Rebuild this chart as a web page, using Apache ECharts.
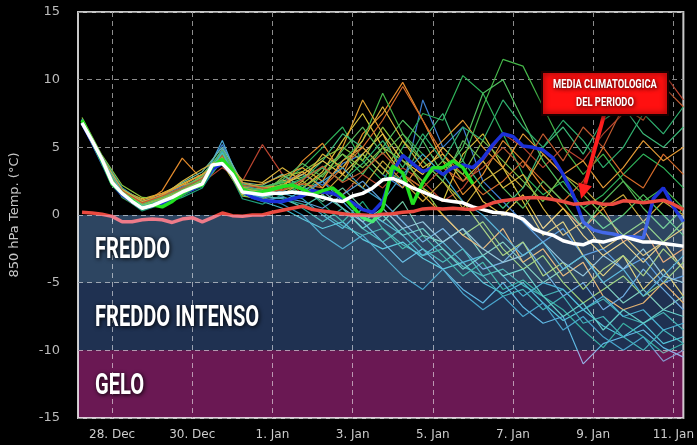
<!DOCTYPE html>
<html>
<head>
<meta charset="utf-8">
<title>850 hPa Temp. ensemble</title>
<script src="https://cdn.jsdelivr.net/npm/echarts@6.0.0/dist/echarts.min.js"></script>
<style>
  html, body { margin: 0; padding: 0; background: #000; }
  #chart { width: 697px; height: 445px; }
</style>
</head>
<body>
<div id="chart"></div>
<script>
// tempo in giorni dal 28 dic 00z (passo 6h e 12h)
const days6 = [-0.75, -0.5, -0.25, 0, 0.25, 0.5, 0.75, 1, 1.25, 1.5, 1.75, 2, 2.25, 2.5, 2.75, 3, 3.25, 3.5, 3.75, 4,
  4.25, 4.5, 4.75, 5, 5.25, 5.5, 5.75, 6, 6.25, 6.5, 6.75, 7, 7.25, 7.5, 7.75, 8, 8.25, 8.5, 8.75, 9,
  9.25, 9.5, 9.75, 10, 10.25, 10.5, 10.75, 11, 11.25, 11.5, 11.75, 12, 12.25, 12.5, 12.75, 13, 13.25, 13.5, 13.75, 14, 14.25];
const days12 = [-0.75, -0.25, 0.25, 0.75, 1.25, 1.75, 2.25, 2.75, 3.25, 3.75, 4.25, 4.75, 5.25, 5.75, 6.25, 6.75,
  7.25, 7.75, 8.25, 8.75, 9.25, 9.75, 10.25, 10.75, 11.25, 11.75, 12.25, 12.75, 13.25, 13.75, 14.25];

const tickDays = [0, 2, 4, 6, 8, 10, 12, 14];
const tickLabels = ['28. Dec', '30. Dec', '1. Jan', '3. Jan', '5. Jan', '7. Jan', '9. Jan', '11. Jan'];

// media climatologica (rossa)
const climaRed = [0.2, 0.15, 0.05, -0.1, -0.5, -0.5, -0.35, -0.3, -0.35, -0.55,
  -0.3, -0.2, -0.5, -0.2, 0.15, -0.05, -0.1, 0.0, 0.0, 0.2,
  0.35, 0.5, 0.65, 0.4, 0.3, 0.2, 0.1, 0.0, 0.0, -0.05,
  0.05, 0.1, 0.2, 0.25, 0.45, 0.5, 0.45, 0.5, 0.45, 0.4,
  0.6, 0.9, 1.05, 1.15, 1.25, 1.3, 1.25, 1.15, 1.0, 0.8,
  0.85, 0.95, 0.8, 0.8, 1.05, 1.0, 0.9, 1.0, 1.1, 0.8, 0.4];
// media ensemble (bianca)
const meanWhite = [6.8, 5.5, 4.1, 2.4, 1.6, 1.0, 0.5, 0.7, 1.0, 1.3,
  1.7, 2.0, 2.3, 3.7, 3.8, 3.0, 1.7, 1.6, 1.5, 1.6,
  1.6, 1.7, 1.6, 1.5, 1.3, 1.1, 1.0, 1.4, 1.6, 2.0,
  2.6, 2.7, 2.4, 2.0, 1.7, 1.4, 1.1, 1.0, 0.9, 0.6,
  0.4, 0.2, 0.15, 0.0, -0.3, -1.0, -1.3, -1.5, -1.9, -2.1,
  -2.2, -1.9, -2.0, -1.8, -1.6, -1.8, -2.0, -2.0, -2.1, -2.2, -2.3];
// operativo (blu)
const opBlue = [6.8, 5.4, 3.9, 2.3, 1.5, 1.0, 0.5, 0.7, 0.9, 1.2,
  1.6, 1.9, 2.2, 3.4, 3.8, 3.0, 1.8, 1.3, 1.1, 1.0,
  1.0, 1.2, 1.4, 1.8, 1.7, 1.6, 1.3, 0.9, 0.4, 0.2,
  1.0, 3.2, 4.4, 3.8, 3.2, 3.5, 3.0, 3.5, 3.7, 3.5,
  4.2, 5.2, 6.0, 5.8, 5.1, 5.0, 4.8, 4.2, 3.0, 1.5,
  -0.5, -1.1, -1.3, -1.4, -1.6, -1.6, -1.7, 1.2, 2.0, 0.6, -0.5];
// controllo (verde), fino al 6 gen
const ctrlGreen = [7.0, 5.5, 4.0, 2.3, 1.6, 1.1, 0.5, 0.75, 0.6, 1.0,
  1.6, 2.0, 2.2, 3.6, 4.1, 3.3, 1.9, 1.6, 1.7, 1.9,
  2.1, 2.2, 1.9, 1.5, 1.8, 2.0, 1.4, 0.6, -0.2, -0.5,
  0.5, 3.6, 3.1, 0.8, 2.4, 3.5, 3.5, 4.0, 3.5, 2.3];

// membri ensemble (passo 12h)
const members = [
  [7.0, 4.2, 1.9, 0.9, 1.2, 1.8, 2.6, 4.6, 2.0, 1.4, 1.2, 0.8, 0.2, -0.8, -1.5, -1.0, -2.2, -3.0, -2.5, -3.8, -4.5, -4.0, -5.2, -6.0, -5.5, -7.0, -6.2, -7.5, -8.0, -7.2, -8.5],
  [6.8, 3.9, 1.5, 0.5, 0.9, 1.5, 2.2, 4.0, 1.5, 1.0, 0.5, -0.3, -1.0, -0.5, -1.8, -2.5, -2.0, -3.2, -4.0, -3.5, -5.0, -5.8, -5.0, -6.5, -7.8, -7.0, -8.2, -9.0, -8.0, -9.5, -9.0],
  [7.1, 4.3, 2.0, 1.0, 1.5, 2.1, 2.8, 5.2, 2.3, 2.0, 2.5, 3.0, 2.2, 3.8, 4.5, 3.0, 2.0, 8.5, 5.0, 6.5, 2.5, 1.0, -0.5, -2.0, -1.0, -3.0, -2.5, -4.0, -3.2, -5.0, -4.5],
  [6.9, 4.0, 1.6, 0.6, 1.0, 1.5, 2.5, 4.4, 1.8, 1.9, 2.4, 3.5, 5.0, 6.5, 4.0, 2.5, 5.0, 7.5, 7.0, 10.3, 9.0, 6.0, 3.0, 1.5, 2.5, 0.5, 1.5, 3.0, 4.5, 3.5, 2.0],
  [6.7, 3.8, 1.8, 1.2, 1.6, 2.3, 3.0, 3.8, 1.5, 1.8, 2.6, 2.0, 3.2, 5.5, 7.5, 5.0, 3.0, 2.0, 1.0, 4.5, 6.0, 3.5, 1.0, -1.5, -0.5, -3.0, -4.5, -3.0, -5.5, -4.0, -6.0],
  [6.9, 4.1, 1.7, 0.8, 1.8, 4.2, 2.6, 4.8, 2.2, 1.7, 2.0, 4.0, 5.3, 3.0, 6.0, 7.5, 9.8, 7.0, 4.0, 1.5, 3.0, 5.5, 4.0, 2.0, 0.5, -1.0, 0.5, -2.0, -1.0, -3.5, -2.5],
  [6.8, 4.0, 1.9, 1.0, 1.4, 2.0, 2.4, 3.5, 2.5, 5.2, 3.0, 1.5, 2.5, 1.5, 3.0, 2.0, 3.5, 2.5, 1.0, 2.0, 4.0, 6.0, 5.0, 3.5, 5.0, 4.0, 6.0, 7.5, 9.0, 10.5, 8.5],
  [7.2, 4.4, 2.2, 1.3, 1.2, 1.8, 3.0, 4.5, 2.0, 1.5, 2.8, 3.2, 4.2, 5.0, 4.0, 6.5, 4.5, 2.0, 0.0, -1.5, -0.5, -2.5, -4.0, -3.0, -5.0, -6.5, -5.5, -4.5, -6.0, -5.0, -3.5],
  [6.9, 3.9, 1.4, 0.3, 0.8, 1.3, 2.0, 4.2, 1.2, 0.8, 1.5, 2.2, 0.8, -0.5, 1.0, -1.0, -2.5, -1.5, -3.0, -4.5, -3.5, -5.5, -4.8, -6.0, -7.0, -8.5, -9.8, -8.0, -9.0, -10.2, -9.5],
  [7.0, 4.1, 1.8, 0.6, 1.1, 1.7, 2.5, 5.5, 1.9, 1.2, 1.0, 1.8, 2.5, 1.0, -0.5, -2.0, -3.5, -2.5, -4.0, -5.5, -6.5, -5.0, -6.8, -8.0, -7.5, -11.0, -9.5, -9.0, -8.5, -9.8, -10.5],
  [6.8, 3.7, 1.3, 0.4, 1.0, 1.4, 2.2, 4.0, 1.6, 2.0, 2.5, 1.5, 3.0, 4.0, 5.5, 9.0, 6.0, 4.5, 3.0, 4.0, 8.0, 11.5, 11.0, 8.0, 5.0, 3.0, 4.5, 2.5, 1.0, 2.0, 0.5],
  [6.9, 4.0, 1.6, 0.9, 1.3, 2.0, 2.8, 4.6, 2.1, 1.9, 1.5, 2.5, 1.5, 3.0, 2.0, 4.0, 2.5, 1.0, 2.5, 0.5, 2.5, 3.5, 2.0, 4.5, 3.0, 2.0, 0.5, 1.5, -0.5, 1.0, 0.0],
  [7.0, 4.2, 1.7, 0.7, 1.2, 1.6, 2.3, 4.0, 1.7, 1.3, 0.8, 0.0, -1.5, -2.5, -1.5, -3.0, -4.5, -5.5, -4.0, -5.8, -7.0, -6.0, -7.5, -6.5, -8.5, -7.5, -9.0, -10.0, -9.0, -10.8, -10.0],
  [6.8, 3.9, 1.6, 0.8, 1.5, 2.4, 3.2, 5.0, 2.4, 2.2, 3.0, 2.0, 1.0, 2.0, 0.5, -0.5, 1.0, -1.5, -2.0, -1.0, -3.0, -2.0, -3.5, -5.0, -4.0, -3.0, -5.0, -6.5, -5.5, -7.0, -6.0],
  [7.0, 4.2, 1.9, 1.1, 1.6, 2.2, 2.6, 4.3, 2.0, 2.3, 2.9, 3.5, 2.5, 5.0, 8.5, 6.0, 3.0, 1.5, 0.0, -1.5, -2.5, -1.0, -3.5, -2.5, -4.5, -3.5, -6.0, -7.0, -6.5, -5.0, -6.5],
  [6.9, 4.0, 1.5, 0.5, 0.9, 1.6, 2.3, 4.4, 1.8, 1.6, 2.0, 2.6, 4.0, 6.0, 5.0, 3.5, 2.5, 5.5, 7.5, 4.0, 2.0, 0.5, 2.0, 5.0, 6.5, 4.5, 7.0, 8.0, 6.0, 5.0, 6.5],
  [7.0, 4.1, 1.8, 0.7, 1.1, 1.7, 2.4, 4.9, 1.7, 1.1, 1.3, 1.0, 0.5, 1.5, 2.5, 1.0, -0.5, -2.0, -1.0, -2.5, -4.0, -3.5, -2.0, -4.0, -6.0, -5.0, -7.0, -6.0, -4.0, -5.5, -7.0],
  [6.7, 3.8, 1.4, 0.5, 1.0, 1.7, 2.5, 4.1, 1.4, 1.2, 1.8, 2.3, 3.5, 2.5, 4.5, 3.0, 5.5, 4.0, 2.5, 1.0, -1.0, -3.0, -2.0, -4.5, -3.5, -5.5, -4.0, -3.0, -4.5, -2.5, -4.0],
  [7.1, 4.3, 2.0, 1.0, 1.4, 2.0, 2.7, 4.7, 2.2, 1.8, 1.4, 0.5, -0.5, 0.5, -1.0, -2.0, -1.0, -2.5, -3.5, -2.5, -4.5, -6.0, -5.5, -7.0, -6.0, -8.0, -7.5, -9.0, -10.0, -8.5, -9.5],
  [6.9, 4.0, 1.7, 0.8, 1.3, 1.9, 2.5, 4.5, 1.9, 1.6, 1.9, 2.3, 2.0, 3.5, 5.0, 7.0, 9.5, 7.0, 4.5, 3.0, 1.5, 2.5, 4.0, 2.5, 1.0, 2.5, 5.0, 3.0, 2.0, 4.5, 3.0],
  [6.8, 3.9, 1.5, 0.6, 1.0, 1.5, 2.2, 4.2, 1.6, 1.4, 1.6, 1.2, 0.0, -1.0, 0.5, -0.5, -1.5, -3.0, -2.0, -3.5, -3.0, -4.5, -6.0, -5.0, -5.5, -7.0, -6.0, -7.5, -7.0, -8.5, -8.0],
  [7.0, 4.1, 1.8, 0.9, 1.4, 2.0, 2.9, 4.8, 2.3, 2.1, 2.4, 2.8, 3.5, 4.5, 3.0, 5.0, 7.0, 5.5, 3.0, 5.0, 9.0, 10.0, 7.0, 4.0, 2.0, 0.5, -1.0, 0.0, 1.5, 0.0, -1.5],
  [6.9, 4.0, 1.6, 0.7, 1.1, 1.6, 2.3, 4.3, 1.7, 1.5, 1.7, 1.5, 1.8, 0.5, -0.5, 0.5, -1.0, -0.5, -2.0, -1.0, -2.5, -3.5, -3.0, -2.0, -3.5, -4.5, -3.0, -4.0, -2.5, -4.5, -5.0],
  [7.0, 4.0, 1.7, 0.8, 1.2, 1.8, 2.6, 4.4, 2.0, 1.7, 2.2, 3.0, 4.0, 3.0, 4.5, 6.0, 4.0, 3.0, 5.0, 3.5, 1.0, 0.0, 1.5, -1.0, 0.5, -1.5, -3.0, -2.0, -3.5, -2.0, -4.0],
  [6.9, 4.1, 1.8, 0.8, 1.3, 1.9, 2.6, 4.6, 2.0, 1.8, 2.6, 3.8, 2.8, 4.8, 6.5, 4.5, 6.0, 4.0, 2.5, 5.5, 4.0, 2.0, 0.5, 2.5, 1.0, -1.0, 1.0, 2.5, 0.5, -1.0, 0.5],
  [7.0, 4.2, 1.9, 1.0, 1.4, 2.5, 3.4, 4.2, 2.6, 2.4, 3.5, 2.5, 4.5, 3.5, 5.5, 8.0, 5.5, 3.5, 4.5, 2.5, 4.0, 2.0, 3.0, 0.5, -1.5, -0.5, -2.5, -1.5, -3.0, -2.0, -1.0],
  [6.8, 3.8, 1.5, 0.5, 1.0, 1.6, 2.2, 4.7, 1.6, 1.3, 1.8, 1.5, 2.5, 3.5, 2.0, 1.0, 3.0, 4.5, 3.0, 1.0, 0.0, -1.5, -3.0, -2.0, -4.0, -3.0, -5.0, -4.0, -6.0, -4.5, -3.0],
  [6.9, 4.0, 1.7, 0.9, 1.5, 2.2, 3.0, 4.0, 2.4, 2.0, 2.2, 3.2, 2.0, 4.0, 5.0, 3.5, 2.0, 4.0, 5.5, 7.0, 5.0, 3.5, 6.0, 4.5, 3.0, 4.0, 2.0, 3.5, 5.5, 4.0, 5.0],
  [7.0, 4.1, 1.6, 0.6, 1.1, 1.7, 2.4, 4.5, 1.8, 1.5, 2.1, 2.7, 3.5, 2.5, 3.8, 5.5, 3.5, 6.0, 4.0, 6.5, 5.5, 8.5, 6.5, 5.0, 7.0, 5.5, 3.5, 5.0, 7.5, 6.0, 8.0],
  [6.8, 3.9, 1.5, 0.7, 1.2, 1.8, 2.5, 4.3, 1.9, 1.7, 2.3, 2.0, 3.0, 4.5, 3.5, 5.0, 4.0, 2.5, 4.0, 3.0, 5.5, 4.0, 2.5, 1.0, 3.0, 1.5, 0.0, -1.5, -0.5, -2.0, -0.5],
  [6.9, 4.0, 1.8, 0.9, 1.4, 2.0, 2.7, 4.4, 2.2, 2.0, 1.8, 2.6, 3.6, 2.4, 3.2, 4.6, 3.0, 2.0, 3.5, 2.5, 3.5, 5.0, 3.5, 6.0, 4.0, 6.5, 5.0, 8.0, 7.0, 9.5, 8.0],
  [7.0, 4.1, 1.7, 0.7, 1.0, 1.6, 2.4, 4.6, 1.7, 1.4, 1.2, 0.6, 1.5, 0.5, -1.0, 0.0, -1.5, -1.0, -2.5, -4.0, -3.0, -4.5, -4.0, -6.0, -7.5, -6.5, -8.5, -7.0, -8.0, -7.0, -7.5]
];
const memberColors = ['#2a9d8f', '#3bb6c9', '#3d7fd0', '#2fb35a', '#d8c23a', '#e38b2c', '#b9442f', '#8cc63f',
  '#1e9e7a', '#4aa8d8', '#45b649', '#c9a83a', '#2f8fb5', '#6cc0a0', '#e0a030', '#3cb878',
  '#5b9bd5', '#9ac23c', '#2aa198', '#d46a2a', '#33a0c0', '#52c060', '#7fb2c8', '#e6c44a',
  '#58b85a', '#d9b43c', '#3a9fc8', '#e29a35', '#2fae6e', '#7ec24a', '#c05a30', '#4fc2b0'];

// fasce termiche
const bandNames = ['FREDDO', 'FREDDO INTENSO', 'GELO'];
const bandTop = [0, -5, -10];
const bandBottom = [-5, -10, -15];
const bandColors = ['#2d4561', '#1f3151', '#6a1853'];

const pairs = (xs, ys) => ys.map((v, i) => [xs[i], v]);

const chart = echarts.init(document.getElementById('chart'));

const series = [];
members.forEach((m, i) => {
  series.push({
    type: 'line',
    data: pairs(days12, m),
    symbol: 'none',
    silent: true,
    z: 2,
    lineStyle: { width: 1.2, color: memberColors[i] },
  });
});
series.push({ type: 'line', data: pairs(days6, opBlue), symbol: 'none', silent: true, z: 3, lineStyle: { width: 3.5, color: '#1b30d8' } });
series.push({ type: 'line', data: pairs(days6, ctrlGreen), symbol: 'none', silent: true, z: 4, lineStyle: { width: 3.5, color: '#22e022' } });
series.push({ type: 'line', data: pairs(days6, meanWhite), symbol: 'none', silent: true, z: 5, lineStyle: { width: 3.5, color: '#ffffff' } });
series.push({ type: 'line', data: pairs(days6, climaRed), symbol: 'none', silent: true, z: 6, lineStyle: { width: 3.5, color: '#ea4a40' } });
// fasce sopra le linee, fuse in modalita' screen
series.push({
  type: 'custom',
  silent: true,
  z: 8,
  blendMode: 'screen',
  data: bandTop.map((t, i) => [0, t, bandBottom[i]]),
  encode: { x: 0, y: [1, 2] },
  renderItem: function (params, api) {
    const cs = params.coordSys;
    const y0 = api.coord([0, api.value(1)])[1];
    const y1 = api.coord([0, api.value(2)])[1];
    return {
      type: 'rect',
      shape: { x: cs.x, y: y0, width: cs.width, height: y1 - y0 },
      style: { fill: bandColors[params.dataIndex] },
    };
  },
});

chart.setOption({
  animation: false,
  backgroundColor: '#000',
  grid: { left: 75, right: 5, top: 12, bottom: 27, show: true, borderColor: '#c8c8c8', borderWidth: 2, backgroundColor: 'transparent' },
  xAxis: {
    type: 'value',
    min: -0.85,
    max: 14.25,
    axisLine: { show: false },
    axisTick: { show: true, customValues: tickDays, length: 7, lineStyle: { color: '#bbb' } },
    axisLabel: {
      customValues: tickDays,
      color: '#ccc',
      fontSize: 12,
      fontFamily: 'DejaVu Sans',
      margin: 11,
      formatter: (v) => tickLabels[tickDays.indexOf(v)] || '',
    },
    splitLine: { show: true, lineStyle: { color: '#8c8c8c', type: [5, 4], width: 1 } },
  },
  yAxis: {
    type: 'value',
    min: -15,
    max: 15,
    interval: 5,
    name: '850 hPa Temp. (°C)',
    nameLocation: 'middle',
    nameGap: 57,
    nameTextStyle: { color: '#c8c8c8', fontSize: 13, fontFamily: 'DejaVu Sans' },
    axisLine: { show: false },
    axisTick: { show: false },
    axisLabel: { color: '#bbb', fontSize: 13, fontFamily: 'DejaVu Sans', margin: 18 },
    splitLine: { show: true, lineStyle: { color: '#8c8c8c', type: [5, 4], width: 1 } },
  },
  series: series,
});

// etichette delle fasce e riquadro rosso
const graphics = [];
const textShadow = { textShadowColor: 'rgba(0,0,0,0.95)', textShadowBlur: 4, textShadowOffsetX: 1, textShadowOffsetY: 1 };
bandNames.forEach((name, i) => {
  const y = chart.convertToPixel({ gridIndex: 0 }, [0, (bandTop[i] + bandBottom[i]) / 2])[1] + 2;
  graphics.push({
    type: 'text', x: 95, y: y, scaleX: 0.67, z: 20,
    style: Object.assign({ text: name, fill: '#fff', fontFamily: 'Roboto', fontWeight: 'bold', fontSize: 30, align: 'left', verticalAlign: 'middle' }, textShadow),
  });
});

const tip = chart.convertToPixel({ gridIndex: 0 }, [11.7, 1.2]);
const start = [604, 115];
const dx = tip[0] - start[0], dy = tip[1] - start[1];
const len = Math.sqrt(dx * dx + dy * dy);
const ux = dx / len, uy = dy / len;
const base = [tip[0] - 15 * ux, tip[1] - 15 * uy];
graphics.push({
  type: 'line', z: 21,
  shape: { x1: start[0], y1: start[1], x2: base[0], y2: base[1] },
  style: { stroke: '#ff1e1e', lineWidth: 4, shadowBlur: 3, shadowColor: 'rgba(0,0,0,0.8)' },
});
graphics.push({
  type: 'polygon', z: 21,
  shape: { points: [tip, [base[0] - 7 * uy, base[1] + 7 * ux], [base[0] + 7 * uy, base[1] - 7 * ux]] },
  style: { fill: '#ff1e1e', shadowBlur: 3, shadowColor: 'rgba(0,0,0,0.8)' },
});
graphics.push({
  type: 'rect', z: 22,
  shape: { x: 542, y: 72, width: 126, height: 43 },
  style: { fill: '#ff1010', stroke: '#1a0000', lineWidth: 2, shadowBlur: 6, shadowColor: 'rgba(0,0,0,0.8)' },
});
graphics.push({
  type: 'text', x: 605, y: 85, scaleX: 0.72, z: 23,
  style: Object.assign({ text: 'MEDIA CLIMATOLOGICA', fill: '#fff', fontFamily: 'Roboto', fontWeight: 'bold', fontSize: 13, align: 'center', verticalAlign: 'middle' }, textShadow),
});
graphics.push({
  type: 'text', x: 605, y: 103, scaleX: 0.72, z: 23,
  style: Object.assign({ text: 'DEL PERIODO', fill: '#fff', fontFamily: 'Roboto', fontWeight: 'bold', fontSize: 13, align: 'center', verticalAlign: 'middle' }, textShadow),
});
chart.setOption({ graphic: graphics });
</script>
</body>
</html>
